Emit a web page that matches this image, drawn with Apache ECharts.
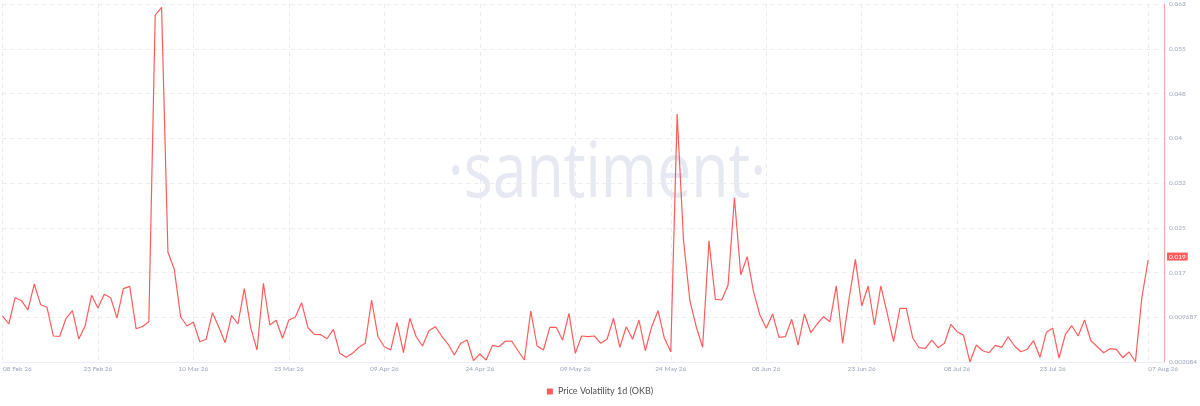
<!DOCTYPE html>
<html>
<head>
<meta charset="utf-8">
<script src="https://cdn.jsdelivr.net/npm/echarts@6/dist/echarts.min.js"></script>
<style>html,body{margin:0;padding:0;background:#fff}#c{width:1200px;height:406px}</style>
</head>
<body>
<div id="c"></div>
<script>
const seriesName = 'Price Volatility 1d (OKB)';
const dateLabels = ['08 Feb 26','23 Feb 26','10 Mar 26','25 Mar 26','09 Apr 26','24 Apr 26','09 May 26','24 May 26','08 Jun 26','23 Jun 26','08 Jul 26','23 Jul 26','07 Aug 26'];
const yTickLabels = ['0.002084','0.009687','0.017','0.025','0.032','0.04','0.048','0.055','0.063'];
const lastValueLabel = '0.019';
const volatility = [
 0.00990,0.00854,0.01301,0.01250,0.01092,0.01533,0.01182,0.01138,0.00650,0.00645,
 0.00951,0.01080,0.00599,0.00825,0.01342,0.01126,0.01359,0.01301,0.00956,0.01454,
 0.01494,0.00774,0.00811,0.00893,0.06103,0.06234,0.02072,0.01783,0.00973,0.00820,
 0.00888,0.00553,0.00594,0.01046,0.00798,0.00536,0.01002,0.00854,0.01454,0.00791,
 0.00412,0.01545,0.00837,0.00917,0.00611,0.00922,0.00968,0.01216,0.00791,0.00679,
 0.00672,0.00604,0.00764,0.00356,0.00288,0.00356,0.00458,0.00526,0.01262,0.00638,
 0.00468,0.00412,0.00876,0.00366,0.00951,0.00638,0.00480,0.00740,0.00808,0.00650,
 0.00514,0.00327,0.00526,0.00582,0.00231,0.00344,0.00242,0.00492,0.00468,0.00560,
 0.00565,0.00400,0.00242,0.01075,0.00480,0.00412,0.00798,0.00798,0.00582,0.01036,
 0.00356,0.00650,0.00638,0.00650,0.00526,0.00599,0.00951,0.00458,0.00808,0.00594,
 0.00922,0.00400,0.00808,0.01080,0.00611,0.00383,0.04421,0.02281,0.01250,0.00808,
 0.00458,0.02269,0.01274,0.01262,0.01516,0.03000,0.01686,0.01997,0.01403,0.01007,
 0.00781,0.01024,0.00628,0.00638,0.00934,0.00497,0.01024,0.00706,0.00854,0.00978,
 0.00893,0.01500,0.00526,0.01274,0.01953,0.01160,0.01500,0.00837,0.01500,0.01036,
 0.00553,0.01121,0.01121,0.00621,0.00451,0.00441,0.00582,0.00451,0.00526,0.00849,
 0.00723,0.00662,0.00208,0.00497,0.00400,0.00366,0.00492,0.00458,0.00638,0.00480,
 0.00383,0.00424,0.00570,0.00288,0.00713,0.00781,0.00276,0.00679,0.00825,0.00650,
 0.00922,0.00570,0.00468,0.00366,0.00434,0.00424,0.00281,0.00378,0.00213,0.01296,
 0.01941
];

const Y_MIN = 0.002084, Y_STEP = 0.007603;
const Y_MAX = Y_MIN + 8 * Y_STEP;
const X_STEP = 15, X_MAX = 182.5;
const RED = '#ff5b5b';
const LABEL_COLOR = '#9ea5bd';
const FONT = 'Lato, "Noto Sans", sans-serif';

const chart = echarts.init(document.getElementById('c'), null, {renderer: 'canvas'});
chart.setOption({
  animation: false,
  backgroundColor: '#fff',
  graphic: [{
    type: 'text', z: 0, silent: true,
    x: 607, y: 175, scaleX: 0.79, scaleY: 1,
    style: {
      text: '\u00B7santiment\u00B7', fontSize: 77, fontFamily: '"Open Sans", sans-serif',
      fill: '#e6e8f2', textAlign: 'center', textVerticalAlign: 'middle'
    }
  }],
  legend: {
    bottom: 5, left: 'center', icon: 'rect', itemWidth: 6, itemHeight: 6, itemGap: 4,
    textStyle: {fontSize: 9, color: '#4f4f4f', fontFamily: FONT},
    data: [seriesName]
  },
  grid: {left: 0, right: 32, top: 4, bottom: 44},
  xAxis: {
    type: 'value', min: 0, max: X_MAX, interval: X_STEP,
    axisLine: {show: true, onZero: false, lineStyle: {color: '#e9ebf5'}},
    axisTick: {show: false},
    splitLine: {show: true, lineStyle: {color: '#e9ebf3', type: [4, 4]}},
    axisLabel: {
      fontSize: 6.5, color: LABEL_COLOR, fontFamily: FONT, margin: 3,
      formatter: function (v) {
        if (Math.abs(v / X_STEP - Math.round(v / X_STEP)) > 1e-6) return '';
        const i = Math.round(v / X_STEP);
        const t = dateLabels[i];
        if (t === undefined) return '';
        if (i === 0 || i === dateLabels.length - 1) return '{s|' + t + '}';
        return t;
      },
      rich: {s: {fontSize: 6.5, color: LABEL_COLOR, fontFamily: FONT, padding: [0, 0, 0, 30]}}
    }
  },
  yAxis: {
    type: 'value', position: 'right', min: Y_MIN, max: Y_MAX, interval: Y_STEP,
    axisLine: {show: true, onZero: false, lineStyle: {color: '#ffa3a3'}},
    axisTick: {show: false},
    splitLine: {show: true, lineStyle: {color: '#e9ebf3', type: [4, 4]}},
    axisLabel: {
      fontSize: 6.5, color: LABEL_COLOR, fontFamily: FONT, margin: 5,
      formatter: function (v) {
        const i = Math.round((v - Y_MIN) / Y_STEP);
        return yTickLabels[i] !== undefined ? yTickLabels[i] : '';
      }
    }
  },
  series: [{
    name: seriesName, type: 'line', showSymbol: false, clip: false,
    color: RED,
    lineStyle: {width: 1.2, color: RED},
    data: volatility.map((v, i) => [i, v]),
    markLine: {
      silent: true, symbol: 'none',
      lineStyle: {color: 'rgba(0,0,0,0)', width: 0, opacity: 1},
      label: {
        show: true, position: 'end', distance: 3, formatter: lastValueLabel, opacity: 1,
        color: '#fff', backgroundColor: RED, padding: [1, 2, 0, 2],
        fontSize: 6.5, fontFamily: FONT
      },
      data: [{yAxis: volatility[volatility.length - 1]}]
    }
  }]
});
</script>
</body>
</html>
